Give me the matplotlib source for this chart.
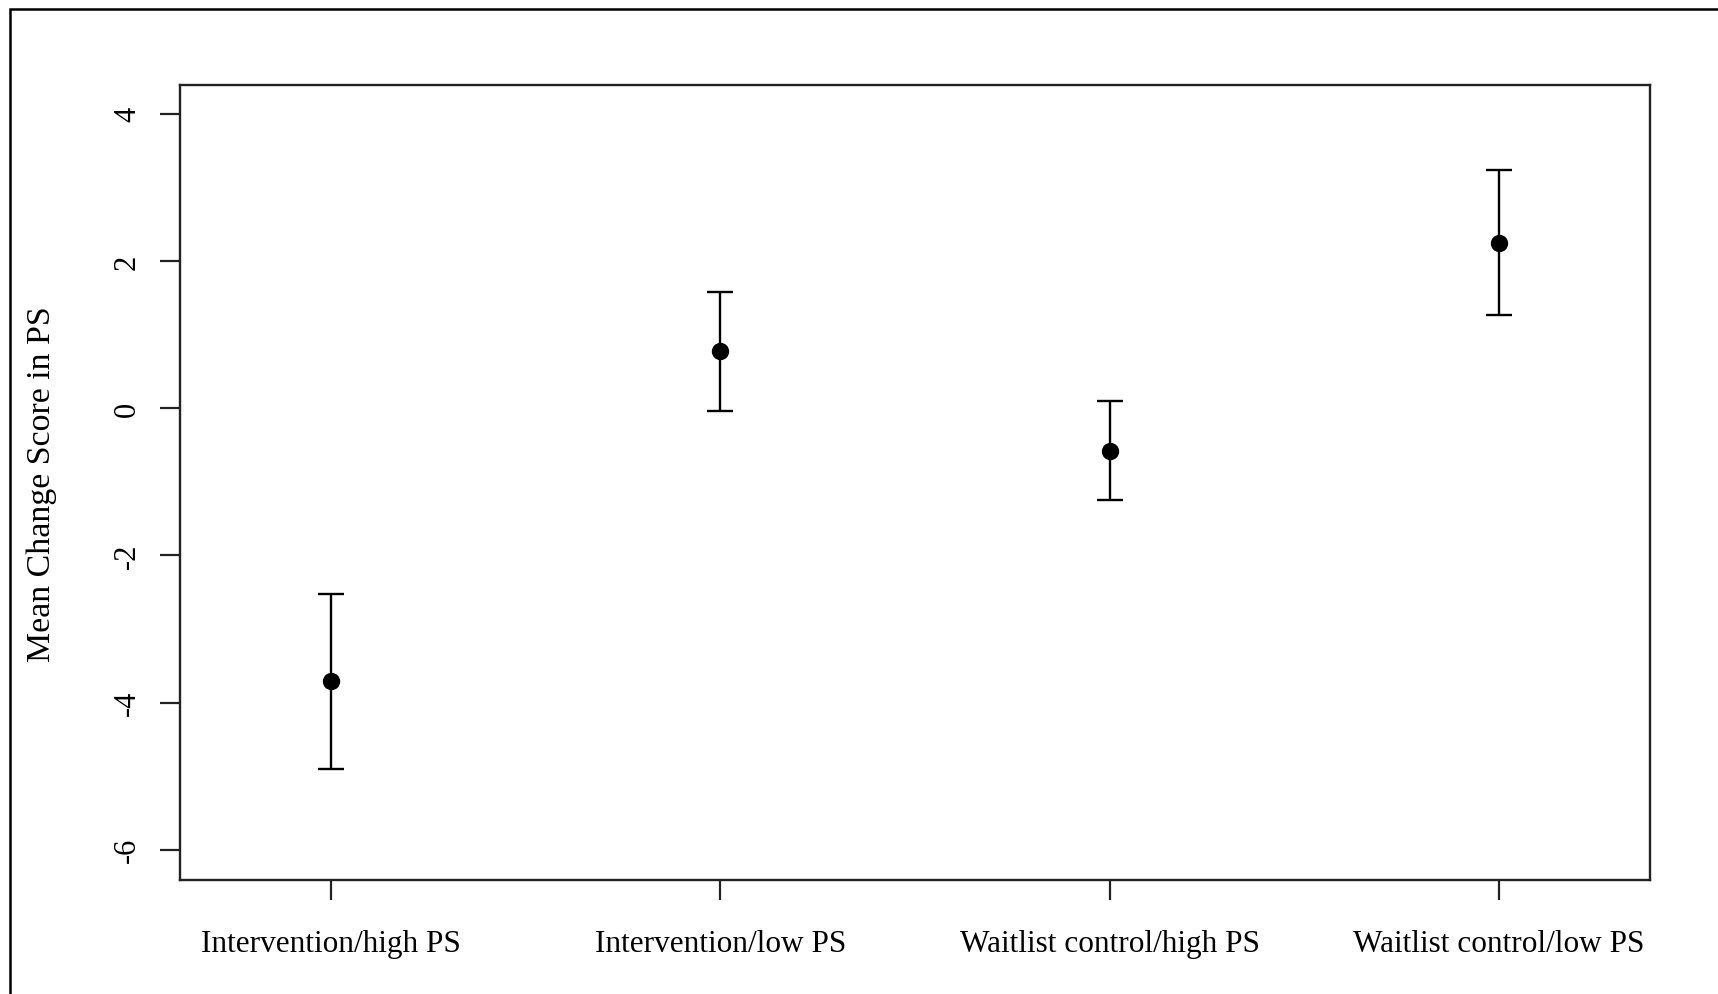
import matplotlib
matplotlib.use("Agg")
import matplotlib.pyplot as plt
from matplotlib.patches import Rectangle

# group labels and change-score summaries (mean with lower/upper interval)
groups = ["Intervention/high PS", "Intervention/low PS",
          "Waitlist control/high PS", "Waitlist control/low PS"]
means = [-3.70, 0.77, -0.58, 2.25]
lower = [-4.90, -0.04, -1.25, 1.26]
upper = [-2.53, 1.58, 0.10, 3.24]
y_ticks = [4, 2, 0, -2, -4, -6]

plt.rcParams["font.family"] = ["Liberation Serif", "DejaVu Serif"]

W, H = 1718, 995
fig = plt.figure(figsize=(W / 100, H / 100), dpi=100)
ax = fig.add_axes([180 / W, 1 - 881 / H, (1650 - 180) / W, (881 - 86) / H])

x = list(range(1, len(groups) + 1))
err = [[m - lo for m, lo in zip(means, lower)],
       [hi - m for m, hi in zip(means, upper)]]
ax.errorbar(x, means, yerr=err, fmt="o", color="black", ms=11.5,
            elinewidth=1.7, capsize=9.5, capthick=1.7)

ax.set_xlim(0.612, 4.388)
ax.set_ylim(-6.41, 4.39)
ax.set_xticks(x)
ax.set_xticklabels(groups, fontsize=22.5)
ax.set_yticks(y_ticks)
ax.set_yticklabels([str(t) for t in y_ticks], fontsize=22, rotation=90, va="center")
ax.tick_params(axis="both", length=14.4, width=1.6, color="#222222")
ax.tick_params(axis="y", pad=13)
ax.tick_params(axis="x", pad=21)
for s in ax.spines.values():
    s.set_linewidth(1.7)
    s.set_color("#222222")

# y axis title
fig.text(42 / W, 1 - 484 / H, "Mean Change Score in PS",
         rotation=90, ha="center", va="center", fontsize=24.4)

# outer border: only the top and left edges fall inside the canvas
fig.patches.append(Rectangle((10 / W, -0.1), 1.2, 1 - 10 / H + 0.1,
                             transform=fig.transFigure, fill=False,
                             edgecolor="black", linewidth=1.8))

fig.savefig("out.png", dpi=100)
